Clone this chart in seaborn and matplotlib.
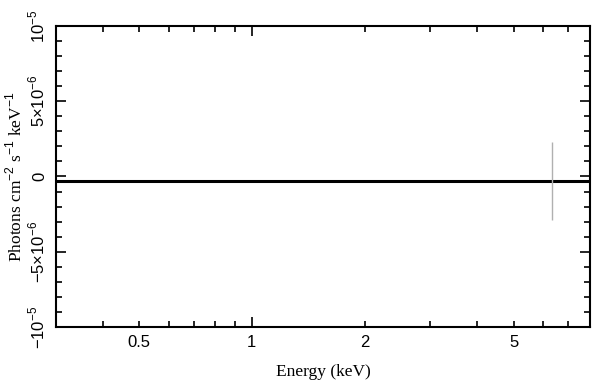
import numpy as np
import pandas as pd
import matplotlib
matplotlib.use("Agg")
import matplotlib.pyplot as plt
import matplotlib.ticker as mticker
import seaborn as sns

# model line (flat) and single data point with error bar
model_energy = [0.3, 8.0]
model_flux = [-3.0e-7, -3.0e-7]
point_energy = [6.35]
point_flux = [-3.0e-7]
point_lo = [-2.9e-6]
point_hi = [2.3e-6]

xticks = [0.5, 2, 5]
xticklabels = ["0.5", "2", "5"]
yticks = [-1e-5, -5e-6, 0, 5e-6, 1e-5]
yticklabels = ["\u221210$^{-5}$", "\u22125\u00d710$^{-6}$", "0",
               "5\u00d710$^{-6}$", "10$^{-5}$"]

sns.set_style("ticks")
plt.rcParams["font.family"] = ["Liberation Sans", "DejaVu Sans"]
plt.rcParams["mathtext.fontset"] = "custom"
plt.rcParams["mathtext.rm"] = "Liberation Sans"

fig = plt.figure(figsize=(6.02, 3.9), dpi=100)
ax = fig.add_axes([0.093, 0.1615, 0.887, 0.772])

df = pd.DataFrame({"energy": model_energy, "flux": model_flux})
sns.lineplot(data=df, x="energy", y="flux", color="black", linewidth=2.2, ax=ax)
ax.vlines(point_energy, point_lo, point_hi, color="#b0b0b0", linewidth=1.0)

ax.set_xscale("log")
ax.set_xlim(0.3, 8.0)
ax.set_ylim(-1e-5, 1e-5)

# only the decade tick (1) is long; the rest are short
ax.xaxis.set_major_locator(mticker.FixedLocator([1]))
ax.xaxis.set_major_formatter(mticker.FixedFormatter(["1"]))
minor_pos = [0.3, 0.4, 0.5, 0.6, 0.7, 0.8, 0.9, 2, 3, 4, 5, 6, 7, 8]
ax.xaxis.set_minor_locator(mticker.FixedLocator(minor_pos))
minor_labels = [xticklabels[xticks.index(v)] if v in xticks else "" for v in minor_pos]
ax.xaxis.set_minor_formatter(mticker.FixedFormatter(minor_labels))
ax.set_yticks(yticks)
ax.set_yticklabels(yticklabels, rotation=90, va="center")
ax.yaxis.set_minor_locator(mticker.MultipleLocator(1e-6))

ax.tick_params(which="both", direction="in", top=True, right=True,
               labelsize=12, width=1.2, pad=6, color="black", labelcolor="black")
ax.tick_params(which="major", length=7)
ax.tick_params(which="minor", length=4)
for s in ax.spines.values():
    s.set_linewidth(1.5)
    s.set_color("black")

ax.set_xlabel("Energy (keV)", fontfamily="Liberation Serif", fontsize=12.5,
              labelpad=10, color="black")
ax.set_ylabel("Photons cm$^{-2}$ s$^{-1}$ keV$^{-1}$", fontfamily="Liberation Serif",
              fontsize=12.5, color="black")
ax.yaxis.set_label_coords(-0.057, 0.5)

fig.savefig("out.png", dpi=100)
